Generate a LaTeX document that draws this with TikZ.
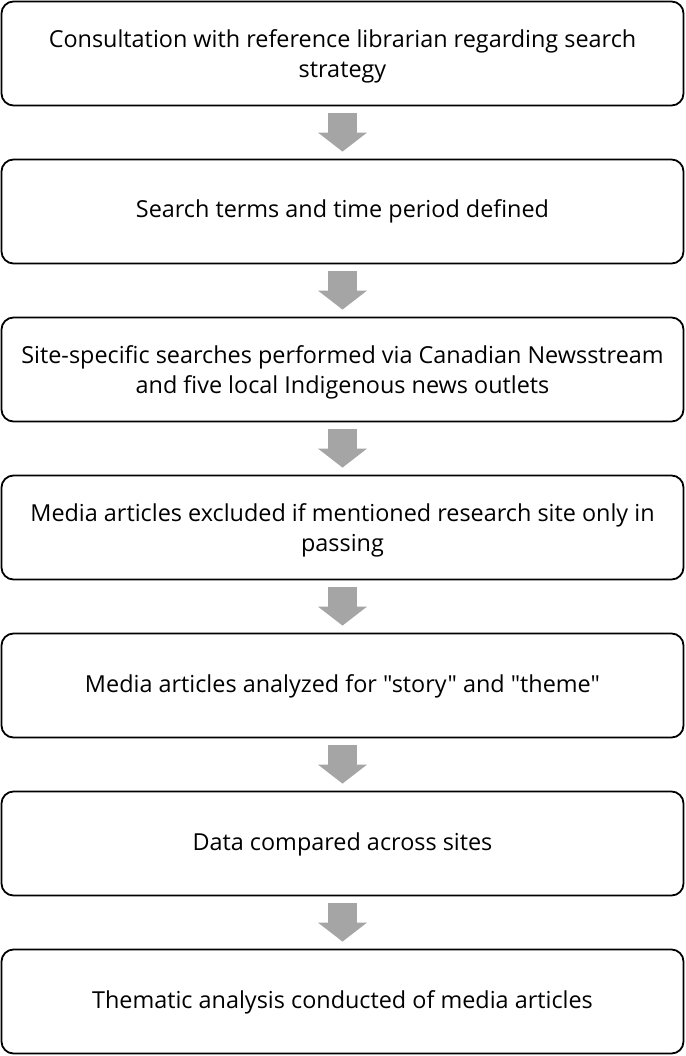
\documentclass[tikz,border=0pt]{standalone}
\usepackage{fontspec}
\setmainfont{Open Sans}[Ligatures=TeXOff]
\usetikzlibrary{arrows.meta,calc}
\tikzset{
  stepbox/.style={draw=black, line width=1.8pt, rounded corners=12pt, minimum width=682pt, minimum height=104pt, align=center, inner sep=0pt, font=\fontsize{23.4}{30}\selectfont, text height=17pt, text depth=4pt},
  twoline/.style={text height=52.5pt, text depth=4.5pt},
  flowarrow/.style={draw={rgb,255:red,165;green,165;blue,165}, line width=29pt, -{Triangle[width=48pt,length=19pt]}}
}
\begin{document}
\begin{tikzpicture}[x=1pt,y=1pt]
\useasboundingbox (0,0) rectangle (685,-1056);
\node[stepbox,twoline] (b1) at (342.5,-53.5) {Consultation with reference librarian regarding search\\strategy};
\node[stepbox] (b2) at (342.5,-211.5) {Search terms and time period defined};
\node[stepbox,twoline] (b3) at (342.5,-369.5) {Site-specific searches performed via Canadian Newsstream\\and five local Indigenous news outlets};
\node[stepbox,twoline] (b4) at (342.5,-527.5) {Media articles excluded if mentioned research site only in\\passing};
\node[stepbox] (b5) at (342.5,-685.5) {Media articles analyzed for "story" and "theme"};
\node[stepbox] (b6) at (342.5,-843.5) {Data compared across sites};
\node[stepbox] (b7) at (342.5,-1001.5) {Thematic analysis conducted of media articles};
\foreach \a/\b in {b1/b2,b2/b3,b3/b4,b4/b5,b5/b6,b6/b7}{
  \draw[flowarrow] ($(\a.south)+(0,-7)$) -- ($(\b.north)+(0,7)$);
}
\end{tikzpicture}
\end{document}
